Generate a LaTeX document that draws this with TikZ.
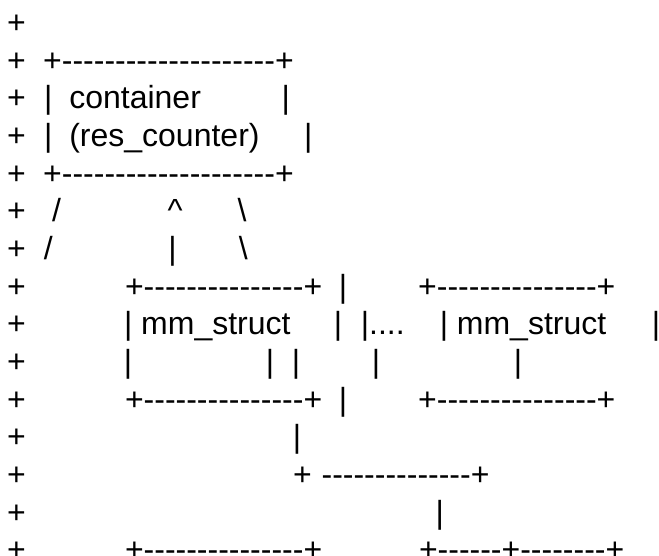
\documentclass[tikz,border=0pt]{standalone}
\usepackage{fontspec}
\newfontfamily\asciifont{Liberation Sans}[Ligatures=TeXOff]
\begin{document}
\begin{tikzpicture}[x=1pt,y=-1pt,
  txt/.style={anchor=base west,inner sep=0pt,outer sep=0pt,
    font=\asciifont\fontsize{32}{38}\selectfont}]
\useasboundingbox (0,0) rectangle (659,556);
% diff-style leading column
\foreach \i in {0,...,14}
  \node[txt] (lead\i) at (7.2,{33.6+\i*37.65}) {+};
% container box
\node[txt] (ctop) at (43.2,71.25) {+--------------------+};
\node[txt] (cl1) at (44,108.9) {|};
\node[txt] (cname) at (69.3,108.9) {container};
\node[txt] (cr1) at (281.5,108.9) {|};
\node[txt] (cl2) at (44,146.55) {|};
\node[txt] (cres) at (69.3,146.55) {(res\_counter)};
\node[txt] (cr2) at (304.1,146.55) {|};
\node[txt] (cbot) at (43.2,184.2) {+--------------------+};
% links below the container
\node[txt] (sl1) at (52.2,221.85) {/};
\node[txt] (up1) at (167.5,221.85) {\textasciicircum};
\node[txt] (bs1) at (237.5,221.85) {\textbackslash};
\node[txt] (sl2) at (43.9,259.5) {/};
\node[txt] (up2) at (168.3,259.5) {|};
\node[txt] (bs2) at (238.9,259.5) {\textbackslash};
% two mm_struct boxes
\node[txt] (mtopA) at (125,297.15) {+---------------+};
\node[txt] (vA1) at (338.8,297.15) {|};
\node[txt] (mtopB) at (418.2,297.15) {+---------------+};
\node[txt] (mlA) at (124.1,334.8) {|};
\node[txt] (mnameA) at (141.2,334.8) {mm\_struct};
\node[txt] (mrA) at (333.8,334.8) {|};
\node[txt] (dots) at (360.8,334.8) {|....};
\node[txt] (mlB) at (439.8,334.8) {|};
\node[txt] (mnameB) at (456.9,334.8) {mm\_struct};
\node[txt] (mrB) at (651.8,334.8) {|};
\node[txt] (r10a) at (123.8,372.45) {|};
\node[txt] (r10b) at (265.8,372.45) {|};
\node[txt] (r10c) at (291.8,372.45) {|};
\node[txt] (r10d) at (371.8,372.45) {|};
\node[txt] (r10e) at (513.8,372.45) {|};
\node[txt] (mbotA) at (125,410.1) {+---------------+};
\node[txt] (vA2) at (338.8,410.1) {|};
\node[txt] (mbotB) at (418.2,410.1) {+---------------+};
% lower branch
\node[txt] (vC) at (292.8,447.75) {|};
\node[txt] (jC) at (293.2,485.4) {+};
\node[txt] (hC) at (321.6,485.4) {--------------+};
\node[txt] (vD) at (435.6,523.05) {|};
\node[txt] (btA) at (125,560.7) {+---------------+};
\node[txt] (btB) at (419,560.7) {+------+--------+};
\end{tikzpicture}
\end{document}
